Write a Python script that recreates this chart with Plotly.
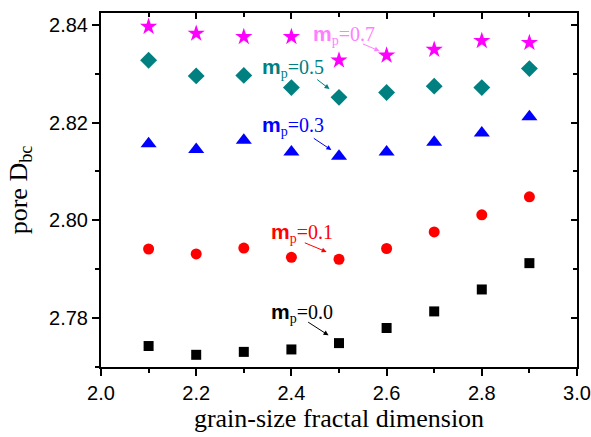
import plotly.graph_objects as go

x_vals = [2.1, 2.2, 2.3, 2.4, 2.5, 2.6, 2.7, 2.8, 2.9]
mp00 = [2.7742, 2.7724, 2.7730, 2.7735, 2.7748, 2.7779, 2.7813, 2.7858, 2.7912]
mp01 = [2.7941, 2.7931, 2.7943, 2.7924, 2.7920, 2.7942, 2.7976, 2.8011, 2.8048]
mp03 = [2.8157, 2.8145, 2.8164, 2.8140, 2.8131, 2.8140, 2.8160, 2.8179, 2.8212]
mp05 = [2.8328, 2.8296, 2.8297, 2.8272, 2.8252, 2.8262, 2.8275, 2.8272, 2.8311]
mp07 = [2.8397, 2.8383, 2.8376, 2.8376, 2.8328, 2.8338, 2.8350, 2.8368, 2.8364]

series = [
    (mp00, "square", "#000000", 10),
    (mp01, "circle", "#ff0000", 11),
    (mp03, "triangle-up", "#0000ff", 14),
    (mp05, "diamond", "#008080", 13),
    (mp07, "star", "#ff00ff", 13),
]

fig = go.Figure()
for ys, sym, col, sz in series:
    fig.add_trace(go.Scatter(x=x_vals, y=ys, mode="markers",
                             marker=dict(symbol=sym, color=col, size=sz, line=dict(width=0)),
                             showlegend=False))

# overlay trace for mirrored inside ticks
fig.add_trace(go.Scatter(x=[2.5], y=[2.8], xaxis="x2", yaxis="y2", mode="markers",
                         marker=dict(opacity=0), showlegend=False, hoverinfo="skip"))

labels = [
    ("0.7", "#ff80ff", 2.51, 2.8380, 2.547, 2.8363, 2.585, 2.8347),
    ("0.5", "#008080", 2.403, 2.8312, 2.451, 2.8291, 2.480, 2.8269),
    ("0.3", "#0000ff", 2.403, 2.8193, 2.444, 2.8170, 2.484, 2.8144),
    ("0.1", "#ff0000", 2.423, 2.7974, 2.425, 2.7955, 2.474, 2.7935),
    ("0.0", "#000000", 2.423, 2.7810, 2.432, 2.7793, 2.478, 2.7764),
]
for val, col, tx, ty, ax0, ay0, hx, hy in labels:
    fig.add_annotation(x=tx, y=ty, xref="x", yref="y", showarrow=False,
                       text='<span style="font-family:Liberation Sans, Arial;font-size:21px"><b>m</b></span>'
                            '<sub>p</sub>=' + val,
                       font=dict(family="Liberation Serif, Times New Roman, serif", size=20, color=col))
    fig.add_annotation(x=hx, y=hy, ax=ax0, ay=ay0, xref="x", yref="y", axref="x", ayref="y",
                       text="", showarrow=True, arrowhead=2, arrowsize=1, arrowwidth=1,
                       arrowcolor=col)

tickfont = dict(family="Liberation Sans, Arial, sans-serif", size=20, color="black")
titlefont = dict(family="Liberation Serif, Times New Roman, serif", size=26, color="black")

fig.update_layout(
    width=591, height=437,
    margin=dict(l=101, r=14, t=13, b=70),
    paper_bgcolor="white", plot_bgcolor="white",
    xaxis=dict(range=[2.0, 3.0], tickvals=[2.0, 2.2, 2.4, 2.6, 2.8, 3.0],
               ticktext=["2.0", "2.2", "2.4", "2.6", "2.8", "3.0"],
               ticks="outside", ticklen=7, tickwidth=2, tickcolor="black",
               minor=dict(ticks="outside", ticklen=4, tickwidth=2, tickcolor="black", dtick=0.1),
               showline=True, linewidth=2, linecolor="black", showgrid=False, zeroline=False,
               tickfont=tickfont, automargin=False,
               title=dict(text="grain-size fractal dimension", font=titlefont, standoff=6)),
    yaxis=dict(range=[2.7699, 2.8425], tickvals=[2.78, 2.80, 2.82, 2.84],
               ticktext=["2.78", "2.80", "2.82", "2.84"],
               ticks="outside", ticklen=7, tickwidth=2, tickcolor="black",
               minor=dict(ticks="outside", ticklen=4, tickwidth=2, tickcolor="black",
                          tickvals=[2.77, 2.79, 2.81, 2.83]),
               showline=True, linewidth=2, linecolor="black", showgrid=False, zeroline=False,
               tickfont=tickfont, automargin=False,
               title=dict(text="pore D<sub>bc</sub>", font=titlefont, standoff=14)),
    xaxis2=dict(range=[2.0, 3.0], overlaying="x", side="top", anchor="y2",
                tickvals=[2.0, 2.2, 2.4, 2.6, 2.8, 3.0], showticklabels=False,
                ticks="inside", ticklen=6, tickwidth=2, tickcolor="black",
                minor=dict(ticks="inside", ticklen=4, tickwidth=2, tickcolor="black", dtick=0.1),
                showline=True, linewidth=2, linecolor="black", showgrid=False, zeroline=False,
                automargin=False),
    yaxis2=dict(range=[2.7699, 2.8425], overlaying="y", side="right", anchor="x2",
                tickvals=[2.78, 2.80, 2.82, 2.84], showticklabels=False,
                ticks="inside", ticklen=6, tickwidth=2, tickcolor="black",
                minor=dict(ticks="inside", ticklen=4, tickwidth=2, tickcolor="black",
                           tickvals=[2.77, 2.79, 2.81, 2.83]),
                showline=True, linewidth=2, linecolor="black", showgrid=False, zeroline=False,
                automargin=False),
)

fig.write_html("out.html")
